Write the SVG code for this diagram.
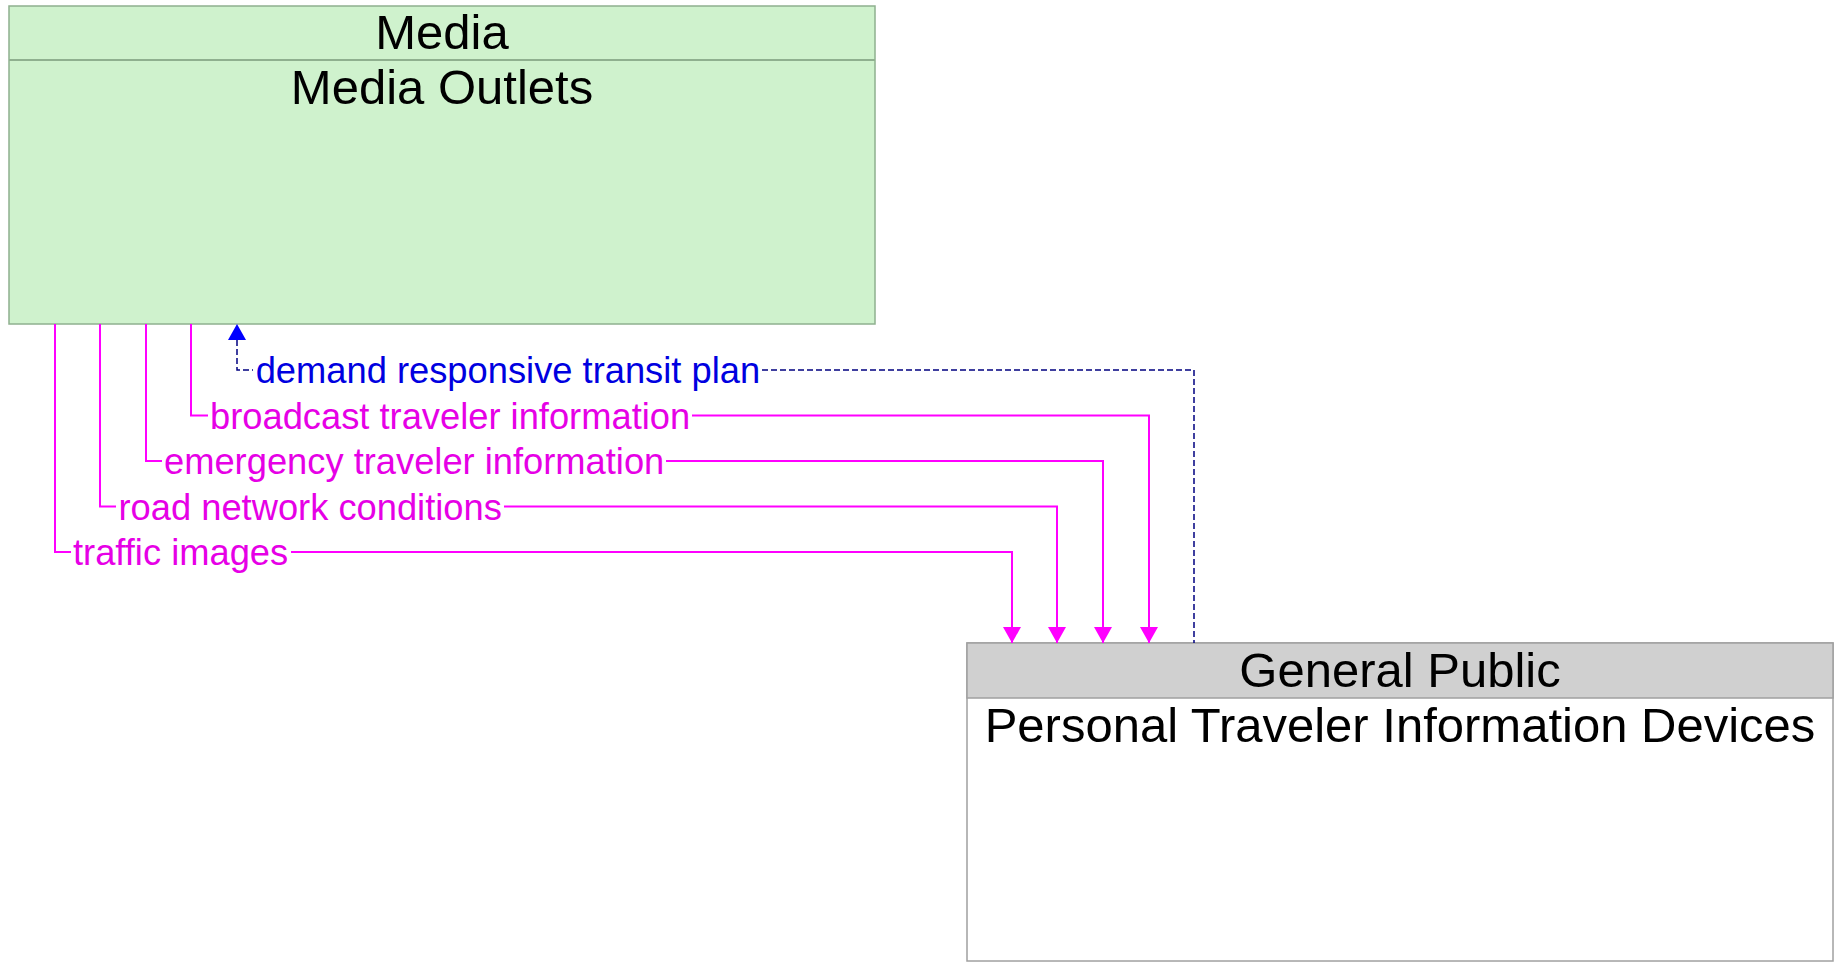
<svg xmlns="http://www.w3.org/2000/svg" width="1839" height="963" viewBox="0 0 1839 963">
<style>
.t{font-family:"Liberation Sans",Arial,sans-serif;}
.title{font-size:49px;fill:#000;text-anchor:middle;}
.lbl{font-size:36.3px;}
.mag{fill:#e600e6;}
.blu{fill:#0000e0;}
.ml{stroke:#ff00ff;stroke-width:2;fill:none;}
.bl{stroke:#000080;stroke-width:1.5;fill:none;stroke-dasharray:6 3;}
</style>
<defs>
<marker id="am" markerWidth="16" markerHeight="18" refX="16" refY="9" orient="auto" markerUnits="userSpaceOnUse" viewBox="0 0 16 18">
<path d="M0,0 L16,9 L0,18 Z" fill="#ff00ff"/>
</marker>
</defs>
<rect width="1839" height="963" fill="#fff"/>
<g id="media">
<rect x="9" y="6" width="866" height="318" fill="#cff2cd" stroke="#8fb08f" stroke-width="1.5"/>
<line x1="9" y1="60" x2="875" y2="60" stroke="#8fb08f" stroke-width="2"/>
<text class="t title" x="442" y="49">Media</text>
<text class="t title" x="442" y="104">Media Outlets</text>
</g>
<g id="general-public">
<rect x="967" y="643" width="866" height="318" fill="#fff" stroke="#a0a0a0" stroke-width="1.5"/>
<rect x="967" y="643" width="866" height="55" fill="#d0d0d0" stroke="#a0a0a0" stroke-width="1.5"/>
<text class="t title" x="1400" y="687">General Public</text>
<text class="t title" x="1400" y="742">Personal Traveler Information Devices</text>
</g>
<g id="connectors">
<!-- demand responsive transit plan -->
<path class="bl" d="M237,340 L237,370 L253,370"/>
<path class="bl" d="M762,370 L1194,370 L1194,643"/>
<path d="M237,324 L228,340 L246,340 Z" fill="#0000ff"/>
<text class="t lbl blu" x="255.7" y="383">demand responsive transit plan</text>
<!-- broadcast traveler information -->
<path class="ml" d="M191,324 L191,415.5 L208,415.5"/>
<path class="ml" d="M692,415.5 L1149,415.5 L1149,643" marker-end="url(#am)"/>
<text class="t lbl mag" x="210" y="428.5">broadcast traveler information</text>
<!-- emergency traveler information -->
<path class="ml" d="M146,324 L146,461 L162,461"/>
<path class="ml" d="M666,461 L1103,461 L1103,643" marker-end="url(#am)"/>
<text class="t lbl mag" x="164" y="474">emergency traveler information</text>
<!-- road network conditions -->
<path class="ml" d="M100,324 L100,506.5 L116,506.5"/>
<path class="ml" d="M504,506.5 L1057,506.5 L1057,643" marker-end="url(#am)"/>
<text class="t lbl mag" x="118.5" y="519.5">road network conditions</text>
<!-- traffic images -->
<path class="ml" d="M55,324 L55,552 L71,552"/>
<path class="ml" d="M291,552 L1012,552 L1012,643" marker-end="url(#am)"/>
<text class="t lbl mag" x="73" y="565">traffic images</text>
</g>
</svg>
